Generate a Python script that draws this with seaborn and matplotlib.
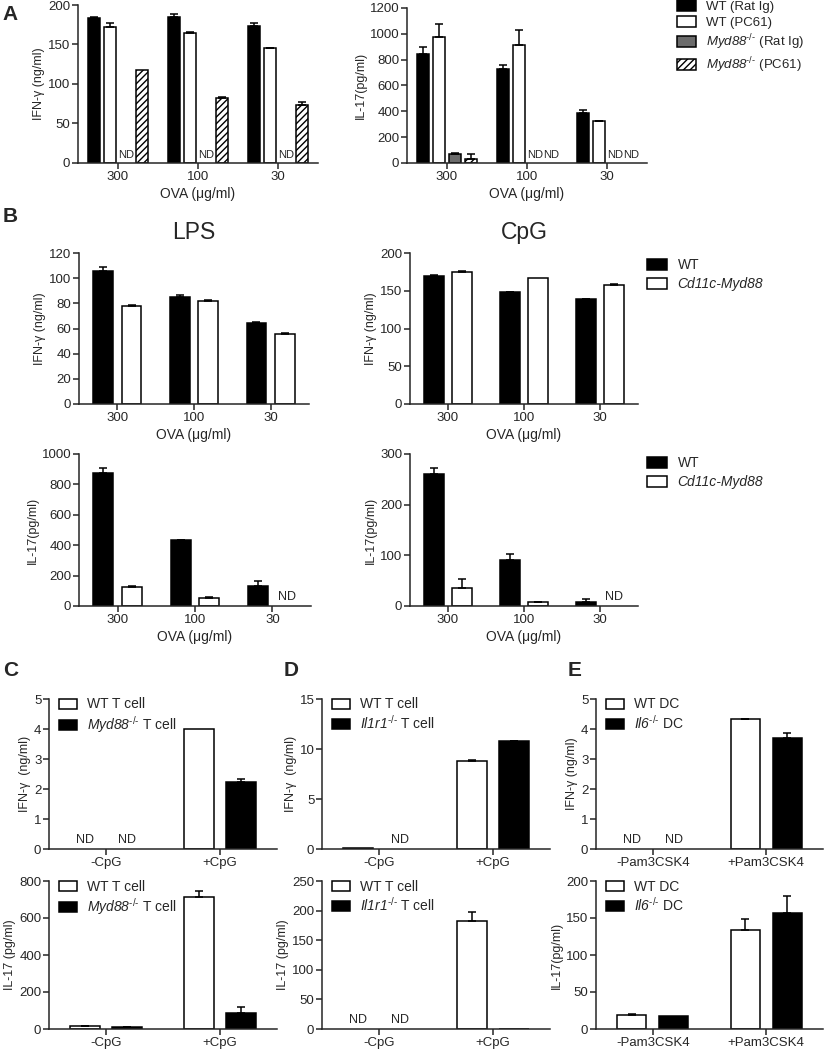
import numpy as np
import pandas as pd
import matplotlib
matplotlib.use("Agg")
import matplotlib.pyplot as plt
import seaborn as sns
from matplotlib.patches import Patch

# ---------------- data (None = ND) ----------------
ova_doses = ["300", "100", "30"]

# Panel A
a_levels = ["WT (Rat Ig)", "WT (PC61)", "Myd88 (Rat Ig)", "Myd88 (PC61)"]
a_labels = ["WT (Rat Ig)", "WT (PC61)",
            r"$\mathsf{Myd88}^{\text{-/-}}$ (Rat Ig)",
            r"$\mathsf{Myd88}^{\text{-/-}}$ (PC61)"]
a_ifn_wt_ratig = [183, 185, 174]
a_ifn_wt_pc61 = [172, 164, 145]
a_ifn_ko_ratig = [None, None, None]
a_ifn_ko_pc61 = [118, 82, 73]
a_ifn_err_wt_ratig = [2, 4, 3]
a_ifn_err_wt_pc61 = [5, 2, 1]
a_ifn_err_ko_ratig = [0, 0, 0]
a_ifn_err_ko_pc61 = [0, 2, 4]

a_il17_wt_ratig = [845, 726, 384]
a_il17_wt_pc61 = [979, 912, 324]
a_il17_ko_ratig = [68, None, None]
a_il17_ko_pc61 = [31, None, None]
a_il17_err_wt_ratig = [50, 36, 23]
a_il17_err_wt_pc61 = [100, 120, 3]
a_il17_err_ko_ratig = [10, 0, 0]
a_il17_err_ko_pc61 = [37, 0, 0]

# Panel B
b_levels = ["WT", "Cd11c-Myd88"]
b_lps_ifn_wt = [106, 85, 64]
b_lps_ifn_cd11c = [78, 82, 56]
b_lps_ifn_err_wt = [3, 2, 1.5]
b_lps_ifn_err_cd11c = [1, 1, 0.5]
b_cpg_ifn_wt = [169, 148, 138.5]
b_cpg_ifn_cd11c = [174.5, 167, 157]
b_cpg_ifn_err_wt = [2, 0.5, 0.5]
b_cpg_ifn_err_cd11c = [2, 0, 2]
b_lps_il17_wt = [877, 433, 132]
b_lps_il17_cd11c = [128, 53, None]
b_lps_il17_err_wt = [28, 4, 35]
b_lps_il17_err_cd11c = [4, 6, 0]
b_cpg_il17_wt = [261, 91, 7]
b_cpg_il17_cd11c = [36, 7, None]
b_cpg_il17_err_wt = [11, 12, 7]
b_cpg_il17_err_cd11c = [17, 0.5, 0]

# Panel C
cpg_conditions = ["-CpG", "+CpG"]
c_levels = ["WT T cell", "Myd88 T cell"]
c_labels = ["WT T cell", r"$\mathsf{Myd88}^{\text{-/-}}$ T cell"]
c_ifn_wt = [None, 4.01]
c_ifn_ko = [None, 2.22]
c_ifn_err_wt = [0, 0]
c_ifn_err_ko = [0, 0.1]
c_il17_wt = [14, 712]
c_il17_ko = [9, 86]
c_il17_err_wt = [4, 33]
c_il17_err_ko = [1, 31]

# Panel D
d_levels = ["WT T cell", "Il1r1 T cell"]
d_labels = ["WT T cell", r"$\mathsf{Il1r1}^{\text{-/-}}$ T cell"]
d_ifn_wt = [0.1, 8.81]
d_ifn_ko = [None, 10.76]
d_ifn_err_wt = [0, 0.1]
d_ifn_err_ko = [0, 0.07]
d_il17_wt = [None, 183]
d_il17_ko = [None, 0]
d_il17_err_wt = [0, 15]
d_il17_err_ko = [0, 0]

# Panel E
pam_conditions = ["-Pam3CSK4", "+Pam3CSK4"]
e_levels = ["WT DC", "Il6 DC"]
e_labels = ["WT DC", r"$\mathsf{Il6}^{\text{-/-}}$ DC"]
e_ifn_wt = [None, 4.33]
e_ifn_ko = [None, 3.71]
e_ifn_err_wt = [0, 0.01]
e_ifn_err_ko = [0, 0.16]
e_il17_wt = [18.4, 134]
e_il17_ko = [18, 157]
e_il17_err_wt = [1.4, 14]
e_il17_err_ko = [0, 23]

# ---------------- style ----------------
sns.set_theme(style="ticks")
plt.rcParams["font.family"] = ["Liberation Sans", "DejaVu Sans"]
plt.rcParams["mathtext.fontset"] = "custom"
plt.rcParams["mathtext.rm"] = "Liberation Sans"
plt.rcParams["mathtext.it"] = "Liberation Sans:italic"
plt.rcParams["mathtext.sf"] = "Liberation Sans:italic"
plt.rcParams["hatch.linewidth"] = 1.0
plt.rcParams["axes.linewidth"] = 1.1

W, H = 824, 1050
fig = plt.figure(figsize=(W / 100, H / 100), dpi=100)


def add_ax(x0, y0, x1, y1):
    return fig.add_axes([x0 / W, 1 - y1 / H, (x1 - x0) / W, (y1 - y0) / H])


def bar_panel(ax, cats, levels, vals, errs, colors, ylim, yticks, ylabel,
              xlabel=None, width=0.74, gap=0.3, hatch_level=None, nd_size=9):
    rows = []
    for lvl, v, e in zip(levels, vals, errs):
        for c, vv, ee in zip(cats, v, e):
            rows.append({"cat": c, "grp": lvl, "val": 0.0 if vv is None else vv,
                         "err": ee, "nd": vv is None})
    df = pd.DataFrame(rows)
    sns.barplot(data=df, x="cat", y="val", hue="grp", order=cats, hue_order=levels,
                palette=dict(zip(levels, colors)), saturation=1, errorbar=None,
                width=width, gap=gap, edgecolor="black", linewidth=1.1,
                legend=False, ax=ax)
    for lvl, cont in zip(levels, ax.containers):
        sub = df[df["grp"] == lvl].set_index("cat")
        for cat, bar in zip(cats, cont):
            xc = bar.get_x() + bar.get_width() / 2
            if lvl == hatch_level:
                bar.set_hatch("/////")
            if sub.loc[cat, "nd"]:
                bar.set_visible(False)
                ax.annotate("ND", (xc, 0), xytext=(0, 2), textcoords="offset points",
                            ha="center", va="bottom", fontsize=nd_size)
                continue
            e = sub.loc[cat, "err"]
            if e > 0:
                ax.errorbar(xc, bar.get_height(), yerr=[[0], [e]], fmt="none",
                            ecolor="black", elinewidth=1.1, capsize=3.2, capthick=1.1,
                            zorder=1)
    ax.set_xlim(-0.5, len(cats) - 0.5)
    ax.set_ylim(*ylim)
    ax.set_yticks(yticks)
    ax.set_ylabel(ylabel, fontsize=9, labelpad=2)
    ax.set_xlabel(xlabel if xlabel else "", fontsize=10, labelpad=3)
    ax.tick_params(direction="out", length=4, width=1.1, labelsize=9.5, pad=1.5)
    sns.despine(ax=ax)


def handles_for(colors, hatches=None):
    hatches = hatches or [None] * len(colors)
    return [Patch(facecolor=c, edgecolor="black", linewidth=1.1, hatch=h)
            for c, h in zip(colors, hatches)]


ova_label = "OVA (\u03bcg/ml)"

# ---------------- Panel A ----------------
a_colors = ["black", "white", "#6b6b6b", "white"]
ax = add_ax(78, 5, 318, 163)
bar_panel(ax, ova_doses, a_levels,
          [a_ifn_wt_ratig, a_ifn_wt_pc61, a_ifn_ko_ratig, a_ifn_ko_pc61],
          [a_ifn_err_wt_ratig, a_ifn_err_wt_pc61, a_ifn_err_ko_ratig, a_ifn_err_ko_pc61],
          a_colors, (0, 200), [0, 50, 100, 150, 200], "IFN-\u03b3 (ng/ml)", ova_label,
          width=0.8, gap=0.27, hatch_level="Myd88 (PC61)", nd_size=8)

ax = add_ax(407, 8, 647, 163)
bar_panel(ax, ova_doses, a_levels,
          [a_il17_wt_ratig, a_il17_wt_pc61, a_il17_ko_ratig, a_il17_ko_pc61],
          [a_il17_err_wt_ratig, a_il17_err_wt_pc61, a_il17_err_ko_ratig, a_il17_err_ko_pc61],
          a_colors, (0, 1200), list(range(0, 1201, 200)), "IL-17(pg/ml)", ova_label,
          width=0.8, gap=0.27, hatch_level="Myd88 (PC61)", nd_size=8)

fig.legend(handles_for(a_colors, [None, None, None, "/////"]), a_labels,
           loc="upper left", bbox_to_anchor=(677 / W, 1.0), frameon=False,
           fontsize=9.5, handlelength=1.45, handleheight=0.85, labelspacing=0.25,
           handletextpad=0.75, borderpad=0, borderaxespad=0)

# ---------------- Panel B ----------------
b_colors = ["black", "white"]
ax = add_ax(79, 253, 309, 404)
bar_panel(ax, ova_doses, b_levels, [b_lps_ifn_wt, b_lps_ifn_cd11c],
          [b_lps_ifn_err_wt, b_lps_ifn_err_cd11c], b_colors, (0, 120),
          list(range(0, 121, 20)), "IFN-\u03b3 (ng/ml)", ova_label)
ax.set_title("LPS", fontsize=16.5, pad=10)

ax = add_ax(410, 253, 638, 404)
bar_panel(ax, ova_doses, b_levels, [b_cpg_ifn_wt, b_cpg_ifn_cd11c],
          [b_cpg_ifn_err_wt, b_cpg_ifn_err_cd11c], b_colors, (0, 200),
          list(range(0, 201, 50)), "IFN-\u03b3 (ng/ml)", ova_label)
ax.set_title("CpG", fontsize=16.5, pad=10)

ax = add_ax(79, 454, 311, 606)
bar_panel(ax, ova_doses, b_levels, [b_lps_il17_wt, b_lps_il17_cd11c],
          [b_lps_il17_err_wt, b_lps_il17_err_cd11c], b_colors, (0, 1000),
          list(range(0, 1001, 200)), "IL-17(pg/ml)", ova_label)

ax = add_ax(410, 454, 638, 606)
bar_panel(ax, ova_doses, b_levels, [b_cpg_il17_wt, b_cpg_il17_cd11c],
          [b_cpg_il17_err_wt, b_cpg_il17_err_cd11c], b_colors, (0, 300),
          [0, 100, 200, 300], "IL-17(pg/ml)", ova_label)

for ytop in (258, 456):
    leg = fig.legend(handles_for(b_colors), b_levels, loc="upper left",
                     bbox_to_anchor=(647 / W, 1 - ytop / H), frameon=False,
                     fontsize=10, handlelength=1.45, handleheight=0.85,
                     labelspacing=0.35, handletextpad=0.75, borderpad=0,
                     borderaxespad=0)
    leg.get_texts()[1].set_style("italic")

# ---------------- Panels C, D, E ----------------
ko_colors = ["white", "black"]
lower = [
    (49, 277, cpg_conditions, c_levels, c_labels,
     [c_ifn_wt, c_ifn_ko], [c_ifn_err_wt, c_ifn_err_ko], (0, 5), [0, 1, 2, 3, 4, 5],
     "IFN-\u03b3  (ng/ml)",
     [c_il17_wt, c_il17_ko], [c_il17_err_wt, c_il17_err_ko], (0, 800),
     [0, 200, 400, 600, 800], "IL-17 (pg/ml)"),
    (322, 550, cpg_conditions, d_levels, d_labels,
     [d_ifn_wt, d_ifn_ko], [d_ifn_err_wt, d_ifn_err_ko], (0, 15), [0, 5, 10, 15],
     "IFN-\u03b3  (ng/ml)",
     [d_il17_wt, d_il17_ko], [d_il17_err_wt, d_il17_err_ko], (0, 250),
     [0, 50, 100, 150, 200, 250], "IL-17 (pg/ml)"),
    (596, 823, pam_conditions, e_levels, e_labels,
     [e_ifn_wt, e_ifn_ko], [e_ifn_err_wt, e_ifn_err_ko], (0, 5), [0, 1, 2, 3, 4, 5],
     "IFN-\u03b3 (ng/ml)",
     [e_il17_wt, e_il17_ko], [e_il17_err_wt, e_il17_err_ko], (0, 200),
     [0, 50, 100, 150, 200], "IL-17(pg/ml)"),
]

for (x0, x1, cats, levels, labels, iv, ie, ilim, iticks, ilab,
     lv, le, llim, lticks, llab) in lower:
    for (y0, y1, vals, errs, lim, ticks, lab) in [
            (699, 849, iv, ie, ilim, iticks, ilab),
            (881, 1029, lv, le, llim, lticks, llab)]:
        ax = add_ax(x0, y0, x1, y1)
        bar_panel(ax, cats, levels, vals, errs, ko_colors, lim, ticks, lab)
        ax.legend(handles_for(ko_colors), labels, loc="upper left",
                  bbox_to_anchor=(0.045, 1.01), frameon=False, fontsize=10,
                  handlelength=1.3, handleheight=0.75, labelspacing=0.2,
                  handletextpad=0.7, borderpad=0, borderaxespad=0)

# panel letters
for letter, px, py in [("A", 10, 15), ("B", 10, 216), ("C", 11, 670),
                       ("D", 291, 670), ("E", 575, 670)]:
    fig.text(px / W, 1 - py / H, letter, fontsize=15, fontweight="bold",
             ha="center", va="center")

fig.savefig("out.png", dpi=100, facecolor="white")
